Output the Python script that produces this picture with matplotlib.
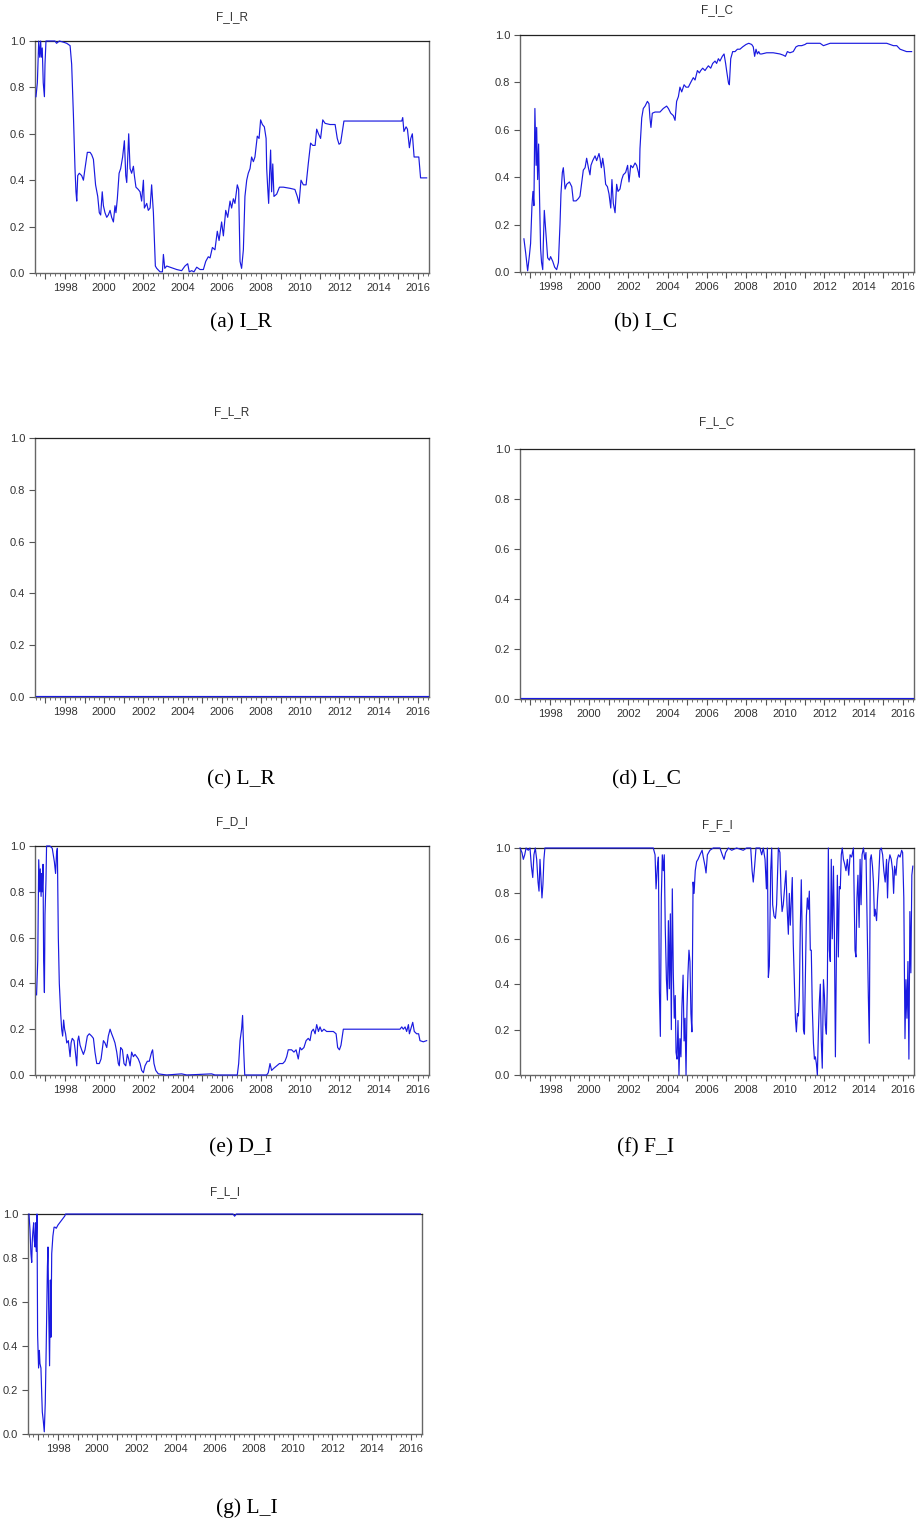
import matplotlib
matplotlib.use('Agg')
import matplotlib.pyplot as plt
from matplotlib.ticker import MultipleLocator, FuncFormatter

# ---- data (decimal years, value) ----
dates_ir = [1996.52, 1996.59, 1996.66, 1996.71, 1996.76, 1996.79, 1996.84, 1996.89, 1996.95, 1996.98,
            1997.03, 1997.23, 1997.49, 1997.57, 1997.71, 1997.92, 1998.09, 1998.26, 1998.34, 1998.43,
            1998.51, 1998.56, 1998.60, 1998.65, 1998.73, 1998.85, 1998.94, 1999.02, 1999.14, 1999.28,
            1999.36, 1999.45, 1999.56, 1999.67, 1999.75, 1999.82, 1999.90, 1999.96, 2000.04, 2000.13,
            2000.21, 2000.30, 2000.38, 2000.47, 2000.55, 2000.60, 2000.67, 2000.76, 2000.84, 2000.94,
            2001.03, 2001.10, 2001.15, 2001.20, 2001.25, 2001.32, 2001.40, 2001.49, 2001.54, 2001.62,
            2001.74, 2001.83, 2001.91, 2002.00, 2002.05, 2002.17, 2002.25, 2002.34, 2002.42, 2002.51,
            2002.56, 2002.61, 2002.68, 2002.85, 2002.97, 2003.02, 2003.09, 2003.19, 2003.36, 2003.53,
            2003.70, 2003.95, 2004.12, 2004.26, 2004.34, 2004.46, 2004.58, 2004.72, 2004.89, 2005.06,
            2005.18, 2005.31, 2005.40, 2005.52, 2005.65, 2005.77, 2005.86, 2005.99, 2006.08, 2006.20,
            2006.30, 2006.42, 2006.50, 2006.59, 2006.67, 2006.79, 2006.86, 2006.93, 2007.01, 2007.10,
            2007.18, 2007.27, 2007.35, 2007.44, 2007.52, 2007.61, 2007.69, 2007.81, 2007.90, 2007.98,
            2008.07, 2008.17, 2008.26, 2008.29, 2008.34, 2008.39, 2008.44, 2008.49, 2008.54, 2008.60,
            2008.66, 2008.80, 2008.94, 2009.14, 2009.48, 2009.73, 2009.85, 2009.94, 2010.04, 2010.16,
            2010.30, 2010.41, 2010.53, 2010.64, 2010.76, 2010.84, 2010.93, 2011.04, 2011.15, 2011.27,
            2011.52, 2011.78, 2011.89, 2011.98, 2012.06, 2012.17, 2012.23, 2012.54, 2013.39, 2014.24,
            2015.18, 2015.23, 2015.29, 2015.40, 2015.47, 2015.57, 2015.64, 2015.72, 2015.81, 2015.94,
            2016.05, 2016.14, 2016.28, 2016.45]
f_ir = [0.76, 0.82, 1.0, 0.93, 1.0, 0.93, 0.97, 0.82, 0.76, 0.9,
        1.0, 1.0, 1.0, 0.99, 1.0, 0.995, 0.99, 0.98, 0.9, 0.68,
        0.45, 0.35, 0.31, 0.42, 0.43, 0.42, 0.40, 0.45, 0.52, 0.52,
        0.51, 0.49, 0.38, 0.33, 0.26, 0.25, 0.35, 0.29, 0.26, 0.24,
        0.25, 0.27, 0.24, 0.22, 0.29, 0.26, 0.32, 0.43, 0.45, 0.50,
        0.57, 0.42, 0.39, 0.50, 0.60, 0.45, 0.43, 0.46, 0.42, 0.37,
        0.36, 0.35, 0.31, 0.40, 0.28, 0.30, 0.27, 0.28, 0.38, 0.26,
        0.15, 0.03, 0.02, 0.005, 0.005, 0.08, 0.02, 0.03, 0.025, 0.02,
        0.015, 0.01, 0.03, 0.04, 0.005, 0.01, 0.005, 0.025, 0.015, 0.015,
        0.05, 0.07, 0.065, 0.11, 0.10, 0.18, 0.14, 0.22, 0.16, 0.27,
        0.24, 0.31, 0.28, 0.32, 0.30, 0.38, 0.36, 0.05, 0.02, 0.10,
        0.33, 0.40, 0.43, 0.45, 0.50, 0.48, 0.50, 0.59, 0.58, 0.66,
        0.64, 0.63, 0.58, 0.45, 0.37, 0.30, 0.43, 0.53, 0.35, 0.47,
        0.33, 0.34, 0.37, 0.37, 0.365, 0.36, 0.33, 0.30, 0.40, 0.38,
        0.38, 0.47, 0.56, 0.55, 0.55, 0.62, 0.60, 0.58, 0.66, 0.645,
        0.64, 0.64, 0.58, 0.555, 0.56, 0.62, 0.655, 0.655, 0.655, 0.655,
        0.655, 0.67, 0.61, 0.63, 0.62, 0.54, 0.58, 0.60, 0.50, 0.50,
        0.50, 0.41, 0.41, 0.41]

dates_ic = [1996.67, 1996.76, 1996.86, 1996.95, 1997.01, 1997.08, 1997.13, 1997.18, 1997.23, 1997.29,
            1997.32, 1997.37, 1997.42, 1997.47, 1997.52, 1997.57, 1997.63, 1997.66, 1997.71, 1997.76,
            1997.83, 1997.88, 1997.97, 1998.03, 1998.14, 1998.24, 1998.34, 1998.43, 1998.51, 1998.56,
            1998.63, 1998.68, 1998.77, 1998.85, 1998.99, 1999.11, 1999.19, 1999.33, 1999.45, 1999.53,
            1999.62, 1999.70, 1999.79, 1999.87, 1999.96, 2000.04, 2000.09, 2000.18, 2000.30, 2000.38,
            2000.50, 2000.55, 2000.62, 2000.69, 2000.76, 2000.84, 2000.93, 2001.01, 2001.10, 2001.16,
            2001.23, 2001.32, 2001.40, 2001.47, 2001.57, 2001.66, 2001.74, 2001.86, 2001.96, 2002.03,
            2002.12, 2002.22, 2002.34, 2002.42, 2002.51, 2002.56, 2002.59, 2002.68, 2002.76, 2002.85,
            2002.97, 2003.05, 2003.10, 2003.15, 2003.22, 2003.36, 2003.61, 2003.78, 2003.95, 2004.04,
            2004.16, 2004.29, 2004.38, 2004.46, 2004.55, 2004.63, 2004.72, 2004.84, 2004.94, 2005.06,
            2005.18, 2005.31, 2005.40, 2005.52, 2005.62, 2005.69, 2005.79, 2005.91, 2005.99, 2006.08,
            2006.20, 2006.30, 2006.42, 2006.50, 2006.59, 2006.67, 2006.79, 2006.88, 2006.96, 2007.01,
            2007.10, 2007.15, 2007.22, 2007.32, 2007.44, 2007.56, 2007.69, 2007.83, 2008.00, 2008.14,
            2008.29, 2008.37, 2008.44, 2008.51, 2008.58, 2008.65, 2008.71, 2008.80, 2009.05, 2009.39,
            2009.73, 2009.90, 2010.01, 2010.11, 2010.24, 2010.41, 2010.55, 2010.67, 2010.84, 2011.01,
            2011.10, 2011.27, 2011.78, 2011.95, 2012.12, 2012.29, 2013.82, 2015.18, 2015.35, 2015.52,
            2015.69, 2015.86, 2016.02, 2016.19, 2016.45]
f_ic = [0.14, 0.08, 0.005, 0.07, 0.12, 0.28, 0.34, 0.28, 0.69, 0.45,
        0.61, 0.39, 0.54, 0.30, 0.10, 0.04, 0.01, 0.12, 0.26, 0.20,
        0.12, 0.06, 0.05, 0.065, 0.045, 0.02, 0.01, 0.04, 0.20, 0.33,
        0.42, 0.44, 0.35, 0.37, 0.38, 0.36, 0.30, 0.30, 0.31, 0.32,
        0.38, 0.43, 0.44, 0.48, 0.44, 0.41, 0.45, 0.47, 0.49, 0.47,
        0.50, 0.48, 0.44, 0.48, 0.44, 0.37, 0.36, 0.33, 0.27, 0.39,
        0.29, 0.25, 0.37, 0.34, 0.35, 0.39, 0.41, 0.42, 0.45, 0.38,
        0.45, 0.44, 0.46, 0.45, 0.42, 0.40, 0.52, 0.65, 0.69, 0.70,
        0.72, 0.71, 0.65, 0.61, 0.67, 0.675, 0.675, 0.69, 0.70, 0.69,
        0.67, 0.66, 0.64, 0.72, 0.74, 0.78, 0.76, 0.79, 0.78, 0.78,
        0.80, 0.82, 0.81, 0.85, 0.84, 0.85, 0.86, 0.85, 0.86, 0.87,
        0.86, 0.88, 0.89, 0.88, 0.90, 0.89, 0.91, 0.92, 0.88, 0.85,
        0.80, 0.79, 0.90, 0.93, 0.93, 0.94, 0.94, 0.95, 0.96, 0.965,
        0.96, 0.95, 0.91, 0.94, 0.92, 0.93, 0.92, 0.92, 0.925, 0.925,
        0.92, 0.915, 0.91, 0.93, 0.925, 0.93, 0.95, 0.955, 0.955, 0.96,
        0.965, 0.965, 0.965, 0.955, 0.96, 0.965, 0.965, 0.965, 0.96, 0.955,
        0.955, 0.94, 0.935, 0.93, 0.93]

dates_lr = [1996.50, 2016.50]
f_lr = [0.004, 0.004]

dates_lc = [1996.50, 2016.50]
f_lc = [0.004, 0.004]

dates_di = [1996.55, 1996.61, 1996.66, 1996.71, 1996.74, 1996.78, 1996.81, 1996.84, 1996.88, 1996.91,
            1996.95, 1996.98, 1997.03, 1997.06, 1997.23, 1997.35, 1997.46, 1997.52, 1997.57, 1997.61,
            1997.66, 1997.71, 1997.78, 1997.83, 1997.88, 1997.93, 1997.98, 1998.03, 1998.09, 1998.17,
            1998.26, 1998.31, 1998.37, 1998.46, 1998.53, 1998.60, 1998.65, 1998.70, 1998.77, 1998.85,
            1998.94, 1999.02, 1999.14, 1999.24, 1999.36, 1999.45, 1999.53, 1999.62, 1999.75, 1999.84,
            1999.96, 2000.04, 2000.13, 2000.21, 2000.30, 2000.38, 2000.47, 2000.55, 2000.64, 2000.72,
            2000.77, 2000.84, 2000.93, 2001.01, 2001.10, 2001.18, 2001.25, 2001.32, 2001.40, 2001.49,
            2001.57, 2001.66, 2001.74, 2001.83, 2001.91, 2002.00, 2002.08, 2002.20, 2002.30, 2002.42,
            2002.47, 2002.54, 2002.63, 2002.76, 2003.19, 2003.95, 2004.21, 2005.48, 2005.65, 2006.79,
            2006.86, 2006.93, 2007.01, 2007.06, 2007.12, 2007.17, 2007.61, 2008.29, 2008.37, 2008.46,
            2008.54, 2008.66, 2008.80, 2008.94, 2009.11, 2009.22, 2009.31, 2009.39, 2009.56, 2009.68,
            2009.79, 2009.90, 2009.99, 2010.07, 2010.19, 2010.30, 2010.41, 2010.50, 2010.58, 2010.67,
            2010.76, 2010.84, 2010.93, 2011.01, 2011.10, 2011.21, 2011.35, 2011.69, 2011.83, 2011.91,
            2012.00, 2012.08, 2012.20, 2012.54, 2014.24, 2015.09, 2015.18, 2015.26, 2015.35, 2015.43,
            2015.52, 2015.57, 2015.64, 2015.74, 2015.82, 2015.94, 2016.04, 2016.11, 2016.28, 2016.45]
f_di = [0.35, 0.50, 0.94, 0.80, 0.90, 0.78, 0.88, 0.80, 0.92, 0.50,
        0.36, 0.70, 0.85, 1.0, 1.0, 0.99, 0.93, 0.88, 0.97, 0.99,
        0.60, 0.40, 0.27, 0.20, 0.17, 0.24, 0.20, 0.18, 0.14, 0.15,
        0.08, 0.14, 0.16, 0.15, 0.10, 0.04, 0.15, 0.17, 0.13, 0.11,
        0.09, 0.11, 0.17, 0.18, 0.17, 0.16, 0.10, 0.05, 0.05, 0.07,
        0.15, 0.14, 0.12, 0.17, 0.20, 0.18, 0.16, 0.14, 0.10, 0.05,
        0.04, 0.12, 0.11, 0.05, 0.04, 0.09, 0.07, 0.04, 0.10, 0.08,
        0.09, 0.08, 0.07, 0.05, 0.02, 0.01, 0.04, 0.06, 0.06, 0.10,
        0.11, 0.05, 0.02, 0.005, 0.0, 0.005, 0.0, 0.005, 0.0, 0.0,
        0.05, 0.15, 0.20, 0.26, 0.10, 0.0, 0.0, 0.0, 0.01, 0.05,
        0.02, 0.03, 0.04, 0.05, 0.05, 0.06, 0.08, 0.11, 0.11, 0.10,
        0.11, 0.07, 0.12, 0.11, 0.12, 0.15, 0.16, 0.15, 0.19, 0.20,
        0.18, 0.22, 0.19, 0.21, 0.19, 0.20, 0.19, 0.19, 0.18, 0.12,
        0.11, 0.13, 0.20, 0.20, 0.20, 0.20, 0.21, 0.20, 0.21, 0.19,
        0.22, 0.18, 0.20, 0.23, 0.19, 0.18, 0.18, 0.15, 0.145, 0.15]

dates_fi = [1996.47, 1996.57, 1996.64, 1996.71, 1996.78, 1996.89, 1996.98, 1997.05, 1997.12, 1997.18,
            1997.25, 1997.32, 1997.39, 1997.44, 1997.49, 1997.54, 1997.59, 1997.64, 1997.69, 1997.74,
            2003.27, 2003.36, 2003.41, 2003.48, 2003.53, 2003.58, 2003.63, 2003.68, 2003.73, 2003.78,
            2003.83, 2003.88, 2003.94, 2003.99, 2004.04, 2004.09, 2004.14, 2004.19, 2004.24, 2004.29,
            2004.34, 2004.39, 2004.43, 2004.48, 2004.53, 2004.58, 2004.63, 2004.68, 2004.73, 2004.79,
            2004.84, 2004.89, 2004.94, 2004.99, 2005.04, 2005.09, 2005.14, 2005.19, 2005.24, 2005.30,
            2005.35, 2005.41, 2005.48, 2005.55, 2005.65, 2005.76, 2005.82, 2005.91, 2005.96, 2006.03,
            2006.16, 2006.33, 2006.67, 2006.79, 2006.88, 2006.96, 2007.10, 2007.27, 2007.52, 2007.86,
            2008.03, 2008.24, 2008.31, 2008.37, 2008.44, 2008.51, 2008.71, 2008.80, 2008.88, 2008.97,
            2009.04, 2009.09, 2009.14, 2009.19, 2009.26, 2009.31, 2009.36, 2009.43, 2009.50, 2009.56,
            2009.65, 2009.73, 2009.79, 2009.84, 2009.90, 2009.99, 2010.04, 2010.09, 2010.16, 2010.21,
            2010.26, 2010.31, 2010.36, 2010.41, 2010.47, 2010.52, 2010.57, 2010.62, 2010.67, 2010.72,
            2010.77, 2010.82, 2010.87, 2010.93, 2010.98, 2011.03, 2011.08, 2011.13, 2011.18, 2011.23,
            2011.28, 2011.33, 2011.38, 2011.44, 2011.49, 2011.54, 2011.59, 2011.64, 2011.69, 2011.74,
            2011.79, 2011.84, 2011.89, 2011.95, 2012.00, 2012.05, 2012.10, 2012.15, 2012.20, 2012.25,
            2012.30, 2012.35, 2012.40, 2012.46, 2012.51, 2012.56, 2012.61, 2012.66, 2012.71, 2012.76,
            2012.81, 2012.86, 2012.91, 2012.97, 2013.03, 2013.10, 2013.17, 2013.24, 2013.31, 2013.39,
            2013.48, 2013.56, 2013.61, 2013.66, 2013.71, 2013.77, 2013.82, 2013.87, 2013.92, 2013.99,
            2014.06, 2014.12, 2014.19, 2014.24, 2014.29, 2014.34, 2014.39, 2014.45, 2014.50, 2014.55,
            2014.59, 2014.66, 2014.71, 2014.76, 2014.83, 2014.90, 2014.97, 2015.03, 2015.10, 2015.17,
            2015.22, 2015.27, 2015.34, 2015.41, 2015.48, 2015.53, 2015.58, 2015.65, 2015.71, 2015.78,
            2015.86, 2015.94, 2015.99, 2016.05, 2016.11, 2016.16, 2016.21, 2016.26, 2016.31, 2016.36,
            2016.41, 2016.46, 2016.51]
f_fi = [1.0, 0.98, 0.95, 0.97, 1.0, 0.99, 1.0, 0.92, 0.87, 0.97,
        1.0, 0.95, 0.85, 0.81, 0.95, 0.86, 0.78, 0.84, 0.95, 1.0,
        1.0, 0.97, 0.82, 0.92, 0.96, 0.37, 0.17, 0.78, 0.97, 0.90,
        0.97, 0.65, 0.42, 0.33, 0.68, 0.38, 0.71, 0.20, 0.82, 0.45,
        0.25, 0.35, 0.10, 0.07, 0.24, 0.00, 0.16, 0.08, 0.30, 0.44,
        0.15, 0.25, 0.00, 0.30, 0.45, 0.55, 0.50, 0.27, 0.19, 0.85,
        0.80, 0.90, 0.94, 0.95, 0.97, 0.99, 0.96, 0.92, 0.89, 0.97,
        0.99, 1.0, 1.0, 0.97, 0.95, 0.98, 1.0, 0.99, 1.0, 0.99,
        1.0, 1.0, 0.90, 0.85, 0.92, 1.0, 1.0, 0.97, 1.0, 0.95,
        0.82, 1.0, 0.43, 0.48, 0.90, 1.0, 0.75, 0.70, 0.69, 0.75,
        1.0, 0.98, 0.80, 0.72, 0.75, 0.85, 0.90, 0.75, 0.62, 0.80,
        0.66, 0.77, 0.87, 0.58, 0.40, 0.25, 0.19, 0.27, 0.26, 0.35,
        0.65, 0.86, 0.60, 0.20, 0.18, 0.45, 0.70, 0.78, 0.73, 0.81,
        0.55, 0.55, 0.30, 0.14, 0.07, 0.08, 0.05, 0.00, 0.18, 0.32,
        0.40, 0.15, 0.03, 0.42, 0.35, 0.22, 0.18, 0.40, 1.0, 0.55,
        0.50, 0.95, 0.60, 0.92, 0.62, 0.08, 0.52, 0.88, 0.52, 0.83,
        0.82, 0.97, 1.0, 0.95, 0.93, 0.90, 0.95, 0.88, 0.97, 0.96,
        1.0, 0.55, 0.52, 0.78, 0.88, 0.65, 0.95, 0.75, 0.97, 1.0,
        0.95, 0.98, 0.60, 0.35, 0.14, 0.95, 0.97, 0.92, 0.85, 0.70,
        0.73, 0.68, 0.78, 0.85, 0.99, 1.0, 0.97, 0.90, 0.85, 0.95,
        0.78, 0.93, 0.97, 0.95, 0.90, 0.80, 0.92, 0.88, 0.95, 0.97,
        0.96, 0.99, 0.98, 0.78, 0.16, 0.42, 0.25, 0.50, 0.07, 0.72,
        0.45, 0.88, 0.92]

dates_li = [1996.52, 1996.57, 1996.62, 1996.66, 1996.69, 1996.72, 1996.76, 1996.79, 1996.83, 1996.86,
            1996.89, 1996.93, 1996.96, 1997.01, 1997.05, 1997.08, 1997.13, 1997.17, 1997.20, 1997.25,
            1997.30, 1997.35, 1997.40, 1997.46, 1997.49, 1997.52, 1997.57, 1997.61, 1997.64, 1997.68,
            1997.74, 1997.80, 1997.85, 1997.91, 1998.00, 1998.17, 1998.34, 1998.39, 2006.93, 2007.01,
            2007.10, 2016.49]
f_li = [1.0, 0.93, 0.82, 0.78, 0.88, 0.92, 0.96, 0.88, 0.85, 0.96,
        0.83, 1.0, 0.45, 0.30, 0.38, 0.32, 0.30, 0.18, 0.10, 0.06,
        0.01, 0.14, 0.40, 0.76, 0.85, 0.60, 0.31, 0.70, 0.44, 0.82,
        0.90, 0.94, 0.94, 0.935, 0.95, 0.97, 0.99, 1.0, 1.0, 0.99,
        1.0, 1.0]

titles = ["F_I_R", "F_I_C", "F_L_R", "F_L_C", "F_D_I", "F_F_I", "F_L_I"]
captions = ["(a) I_R", "(b) I_C", "(c) L_R", "(d) L_C", "(e) D_I", "(f) F_I", "(g) L_I"]
series = [(dates_ir, f_ir), (dates_ic, f_ic), (dates_lr, f_lr), (dates_lc, f_lc),
          (dates_di, f_di), (dates_fi, f_fi), (dates_li, f_li)]

# ---- layout in pixels: axes box (left, top, right, bottom), title y, caption (x, y) ----
W, H = 917, 1521
boxes = [(35, 41, 429, 273), (520, 35, 914, 272),
         (35, 438, 429, 697), (520, 449, 914, 699),
         (35, 846, 429, 1075), (520, 848, 914, 1075),
         (28, 1214, 422, 1434)]
title_y = [17, 10, 412, 422, 822, 825, 1192]
cap_pos = [(241, 323), (646, 323), (241, 780), (646, 780), (241, 1148), (646, 1148), (247, 1508)]

LINE = '#1a1ae0'
SANS = ['Liberation Sans', 'DejaVu Sans']
SERIF = ['Liberation Serif', 'DejaVu Serif']

fig = plt.figure(figsize=(W / 100, H / 100), dpi=100)


def year_label(v, pos):
    y = int(round(v))
    return str(y) if y % 2 == 0 else ""


for (dates, vals), title, cap, box, ty, cp in zip(series, titles, captions, boxes, title_y, cap_pos):
    l, t, r, b = box
    ax = fig.add_axes([l / W, 1 - b / H, (r - l) / W, (b - t) / H])
    ax.plot(dates, vals, color=LINE, lw=0.85, clip_on=False, zorder=3)
    ax.set_xlim(1996.47, 2016.57)
    ax.set_ylim(0, 1)

    ax.yaxis.set_major_locator(MultipleLocator(0.2))
    ax.yaxis.set_major_formatter(FuncFormatter(lambda v, p: f"{v:.1f}"))
    ax.xaxis.set_major_locator(MultipleLocator(1))
    ax.xaxis.set_major_formatter(FuncFormatter(year_label))
    ax.xaxis.set_minor_locator(MultipleLocator(0.25))

    ax.tick_params(axis='both', which='major', direction='out', length=4, width=0.8,
                   color='#555555', labelsize=8, labelcolor='#333333', pad=3)
    ax.tick_params(axis='x', which='minor', direction='out', length=2.2, width=0.6, color='#555555')
    for lab in ax.get_xticklabels() + ax.get_yticklabels():
        lab.set_family(SANS)

    for side in ['left', 'bottom', 'right']:
        ax.spines[side].set_color('#666666')
        ax.spines[side].set_linewidth(1.0)
    ax.spines['top'].set_color('#222222')
    ax.spines['top'].set_linewidth(0.9)

    fig.text((l + r) / 2 / W, 1 - ty / H, title, ha='center', va='center',
             fontsize=8.5, color='#333333', family=SANS)
    fig.text(cp[0] / W, 1 - cp[1] / H, cap, ha='center', va='center',
             fontsize=15.5, color='black', family=SERIF)

plt.savefig('out.png', dpi=100)
